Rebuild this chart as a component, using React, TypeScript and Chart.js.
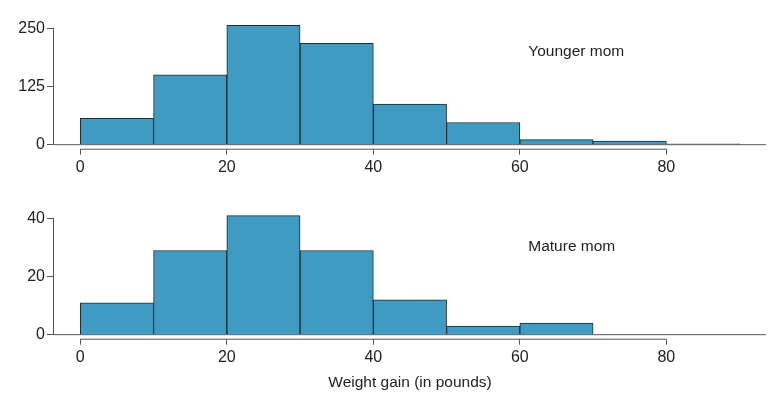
import { useEffect, useRef } from 'react';
import { Chart, registerables } from 'chart.js';

Chart.register(...registerables);

// ---- data ----
const binStarts = [0, 10, 20, 30, 40, 50, 60, 70, 80];
const binWidth = 10;
const youngerCounts = [57, 151, 258, 219, 88, 48, 11, 8, 2];
const matureCounts = [11, 29, 41, 29, 12, 3, 4];
const xTicks = [0, 20, 40, 60, 80];
const youngerYTicks = [0, 125, 250];
const matureYTicks = [0, 20, 40];
const youngerLabel = 'Younger mom';
const matureLabel = 'Mature mom';
const xTitle = 'Weight gain (in pounds)';

const FONT = '"Liberation Sans", Arial, Helvetica, sans-serif';
const FONT_SIZE = 16;
const BAR_FILL = '#3f9bc1';
const BAR_EDGE = '#1d2c33';
const AXIS = '#555555';
const TEXT = '#222222';

const axisLinesPlugin = {
  id: 'axisLines',
  afterDatasetsDraw(chart: any, _args: any, opts: any) {
    const { ctx, chartArea } = chart;
    const x = chart.scales.x;
    const y = chart.scales.y;
    ctx.save();
    ctx.strokeStyle = AXIS;
    ctx.lineWidth = 1;
    const y0 = y.getPixelForValue(0);
    ctx.beginPath();
    ctx.moveTo(chartArea.left, y0);
    ctx.lineTo(chartArea.right, y0);
    ctx.stroke();
    const yt = y.getPixelForValue(opts.yTop);
    ctx.beginPath();
    ctx.moveTo(chartArea.left - 0.5, y0);
    ctx.lineTo(chartArea.left - 0.5, yt);
    ctx.stroke();
    const xb = chartArea.bottom + 0.5;
    ctx.beginPath();
    ctx.moveTo(x.getPixelForValue(opts.xStart), xb);
    ctx.lineTo(x.getPixelForValue(opts.xEnd), xb);
    ctx.stroke();
    ctx.fillStyle = TEXT;
    ctx.font = `15.5px ${FONT}`;
    ctx.textAlign = 'left';
    ctx.textBaseline = 'alphabetic';
    ctx.fillText(opts.label, x.getPixelForValue(opts.labelX), y.getPixelForValue(opts.labelY));
    ctx.restore();
  },
};

interface PanelProps {
  counts: number[];
  yTicks: number[];
  yMin: number;
  yMax: number;
  padTop: number;
  xHeight: number;
  label: string;
  labelY: number;
  showTitle: boolean;
}

function makeConfig(p: PanelProps): any {
  const points = p.counts.map((c, i) => ({ x: binStarts[i] + binWidth / 2, y: c }));
  return {
    type: 'bar',
    data: {
      datasets: [
        {
          data: points,
          backgroundColor: BAR_FILL,
          borderColor: BAR_EDGE,
          borderWidth: 1,
          borderSkipped: 'bottom',
          barPercentage: 1,
          categoryPercentage: 1,
        },
      ],
    },
    options: {
      animation: false,
      responsive: true,
      maintainAspectRatio: false,
      layout: { padding: { top: p.padTop, right: 10, left: 0, bottom: 0 } },
      plugins: {
        legend: { display: false },
        tooltip: { enabled: false },
        axisLines: {
          yTop: p.yTicks[p.yTicks.length - 1],
          xStart: xTicks[0],
          xEnd: xTicks[xTicks.length - 1],
          label: p.label,
          labelX: 61.15,
          labelY: p.labelY,
        },
      },
      scales: {
        x: {
          type: 'linear',
          min: -3.59,
          max: 93.6,
          offset: false,
          afterBuildTicks: (s: any) => {
            s.ticks = xTicks.map((v) => ({ value: v }));
          },
          afterFit: (s: any) => {
            s.height = p.xHeight;
          },
          border: { display: false },
          grid: {
            offset: false,
            drawOnChartArea: false,
            drawTicks: true,
            tickLength: 6,
            color: AXIS,
            lineWidth: 1,
          },
          ticks: {
            padding: 3,
            color: TEXT,
            font: { family: FONT, size: FONT_SIZE },
            maxRotation: 0,
            autoSkip: false,
          },
          title: {
            display: p.showTitle,
            text: xTitle,
            color: TEXT,
            font: { family: FONT, size: 15.5 },
            padding: { top: 0, bottom: 22 },
          },
        },
        y: {
          type: 'linear',
          min: p.yMin,
          max: p.yMax,
          afterBuildTicks: (s: any) => {
            s.ticks = p.yTicks.map((v) => ({ value: v }));
          },
          afterFit: (s: any) => {
            s.width = 54;
          },
          border: { display: false },
          grid: {
            drawOnChartArea: false,
            drawTicks: true,
            tickLength: 7,
            color: AXIS,
            lineWidth: 1,
          },
          ticks: {
            padding: 2,
            color: TEXT,
            font: { family: FONT, size: FONT_SIZE },
            autoSkip: false,
          },
        },
      },
    },
    plugins: [axisLinesPlugin],
  };
}

function Panel({ top, height, props }: { top: number; height: number; props: PanelProps }) {
  const ref = useRef<HTMLCanvasElement | null>(null);
  useEffect(() => {
    if (!ref.current) return;
    const chart = new Chart(ref.current, makeConfig(props));
    return () => chart.destroy();
  }, []);
  return (
    <div style={{ position: 'absolute', left: 0, top, width: 776, height }}>
      <canvas ref={ref} />
    </div>
  );
}

export default function App() {
  return (
    <div
      style={{
        position: 'fixed',
        left: 0,
        top: 0,
        width: 776,
        height: 414,
        background: '#ffffff',
        overflow: 'hidden',
      }}
    >
      <Panel
        top={0}
        height={200}
        props={{
          counts: youngerCounts,
          yTicks: youngerYTicks,
          yMin: -8.64,
          yMax: 270,
          padTop: 19.74,
          xHeight: 51.3,
          label: youngerLabel,
          labelY: 192.3,
          showTitle: false,
        }}
      />
      <Panel
        top={195}
        height={219}
        props={{
          counts: matureCounts,
          yTicks: matureYTicks,
          yMin: -1.377,
          yMax: 44,
          padTop: 11.9,
          xHeight: 75.3,
          label: matureLabel,
          labelY: 28.9,
          showTitle: true,
        }}
      />
    </div>
  );
}
